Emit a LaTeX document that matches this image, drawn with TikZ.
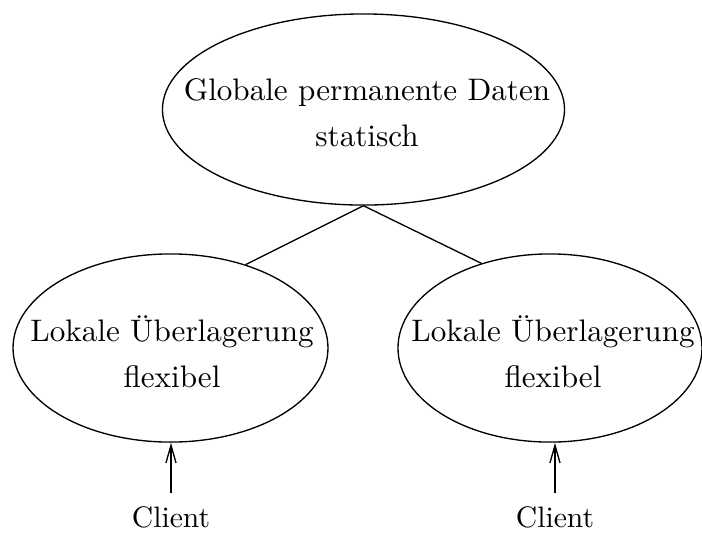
\documentclass[tikz,border=0pt]{standalone}
\usetikzlibrary{shapes.geometric,arrows.meta}
\begin{document}
\begin{tikzpicture}[x=0.3375pt,y=-0.3375pt,
  ell/.style={draw,ellipse,line width=0.45pt,inner sep=0pt},
  txt/.style={inner sep=0pt,align=center,font=\fontsize{10.5}{13}\selectfont},
  conn/.style={line width=0.45pt},
  arr/.style={line width=0.45pt,-{Straight Barb[length=6pt,width=3.4pt]}},
  lbl/.style={inner sep=0pt,anchor=base}]
\useasboundingbox (0,0) rectangle (702,532);
% ellipses (sizes in pt: px * 0.3375)
\node[ell,minimum width=135.7pt,minimum height=64.5pt] (top) at (363.5,109.5) {};
\node[ell,minimum width=106.3pt,minimum height=63.5pt] (l) at (170.5,348) {};
\node[ell,minimum width=102.6pt,minimum height=63.5pt] (r) at (550,348) {};
% texts
\node[txt] (ttop) at (367,113) {Globale permanente Daten\\[2.5pt]statisch};
\node[txt] (tl) at (172,352) {Lokale Überlagerung\\[2.5pt]flexibel};
\node[txt] (tr) at (553,352) {Lokale Überlagerung\\[2.5pt]flexibel};
\node[lbl] (c1) at (171,527) {Client};
\node[lbl] (c2) at (555,527) {Client};
\coordinate (a1) at (171,493);
\coordinate (a2) at (555,493);
% connectors
\draw[conn] (top.south) -- (l.48);
\draw[conn] (top.south) -- (r.129);
\draw[arr] (a1) -- (a1 |- l.south);
\draw[arr] (a2) -- (a2 |- r.south);
\end{tikzpicture}
\end{document}
